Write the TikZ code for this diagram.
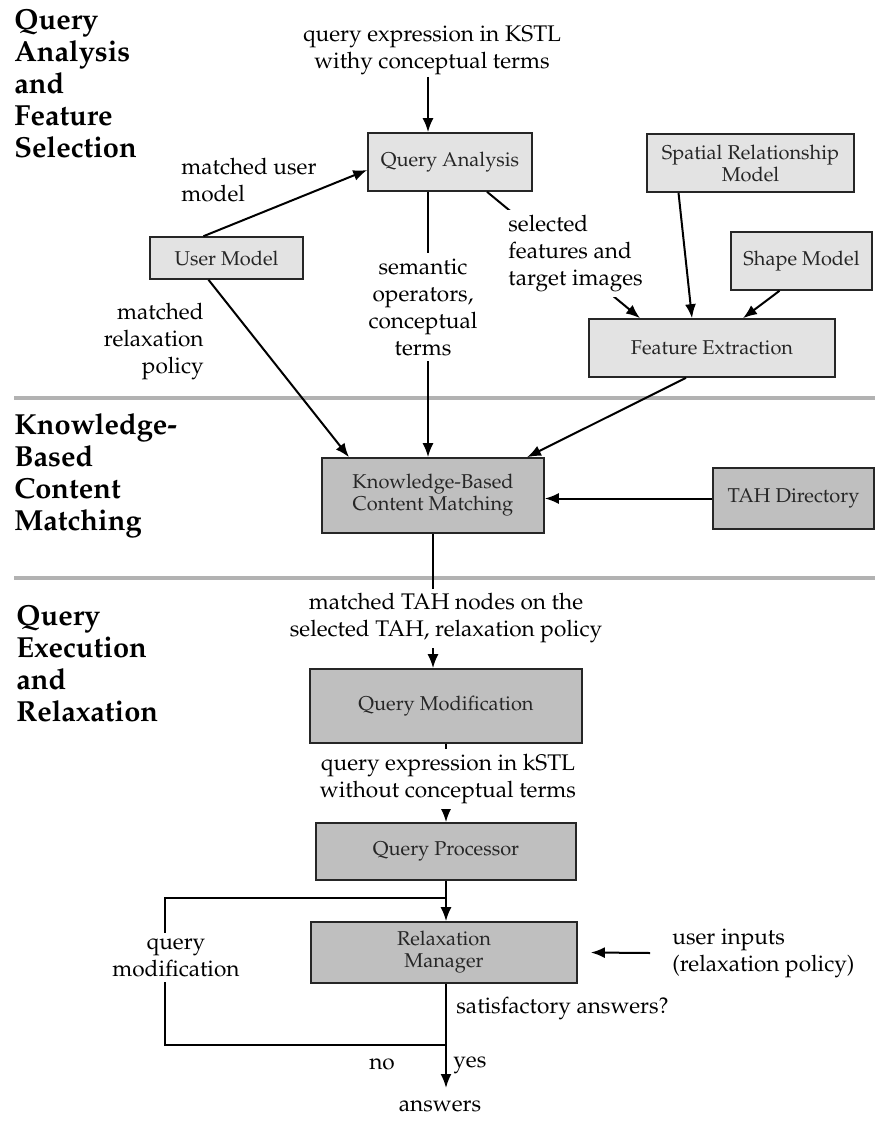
\documentclass[tikz,border=0pt]{standalone}
\usepackage[T1]{fontenc}
\usepackage{mathpazo}
\usepackage{tikz}
\usetikzlibrary{arrows.meta}

\tikzset{
  lightbox/.style={shape=rectangle, draw=black!85, line width=0.8pt, fill=gray!22, inner sep=0pt,
    align=center, text=black!85, font=\fontsize{10}{11}\selectfont},
  darkbox/.style={lightbox, fill=gray!50},
  lbl/.style={inner sep=0pt, font=\fontsize{11.3}{13.5}\selectfont},
  cover/.style={lbl, fill=white, inner sep=2.5pt},
  heading/.style={anchor=west, align=left, inner sep=0pt, font=\fontsize{14.5}{16}\selectfont\bfseries},
  arr/.style={-{Latex[length=7pt,width=5.5pt]}, line width=1pt},
  loop/.style={line width=0.6pt},
  sep/.style={line width=2.2pt, draw=gray!60}
}

\begin{document}
\begin{tikzpicture}[x=0.5pt, y=-0.5pt]

	\useasboundingbox (0,0) rectangle (875,1122);

	\node[heading] (hqa) at (14, 84)    {Query\\Analysis\\and\\Feature\\Selection};
	\node[heading] (hkb) at (14, 475.5) {Knowledge-\\Based\\Content\\Matching};
	\node[heading] (hqe) at (16, 663.5) {Query\\Execution\\and\\Relaxation};

	\draw[sep] (14, 398) -- (875, 398);
	\draw[sep] (14, 578) -- (875, 578);

	\node[lightbox, minimum width=82pt,    minimum height=29pt]   (qa)    at (450, 162)     {Query Analysis};
	\node[lightbox, minimum width=103.5pt, minimum height=29pt]   (sp)    at (750.5, 163)   {Spatial Relationship\\Model};
	\node[lightbox, minimum width=70.5pt,  minimum height=29pt]   (shape) at (801.5, 261)   {Shape Model};
	\node[lightbox, minimum width=76.5pt,  minimum height=21pt]   (user)  at (226.5, 258)   {User Model};
	\node[lightbox, minimum width=123pt,   minimum height=29pt]   (fe)    at (712, 348)     {Feature Extraction};
	\node[darkbox,  minimum width=111pt,   minimum height=37.5pt] (kb)    at (433, 495.5)   {Knowledge-Based\\Content Matching};
	\node[darkbox,  minimum width=80.5pt,  minimum height=30.5pt] (tah)   at (793.5, 498.5) {TAH Directory};
	\node[darkbox,  minimum width=136pt,   minimum height=37pt]   (qm)    at (446, 706)     {Query Modification};
	\node[darkbox,  minimum width=130pt,   minimum height=28.5pt] (qp)    at (446, 851.5)   {Query Processor};
	\node[darkbox,  minimum width=133pt,   minimum height=30.5pt] (rm)    at (444, 952.5)   {Relaxation\\Manager};

	\node[lbl, align=center] (qin) at (432, 50) {query expression in KSTL\\withy conceptual terms};
	\coordinate (qtop) at (428, 77);
	\coordinate (uin)  at (650, 953);
	\coordinate (lpt)  at (446, 898);
	\coordinate (lpb)  at (446, 1045);
	\coordinate (lpl)  at (165, 1045);
	\coordinate (ansin) at (446, 1088);

	\draw[arr] (qtop) -- (qtop |- qa.north);
	\draw[arr] (qtop |- qa.south) -- (qtop |- kb.north);
	\draw[arr] ([xshift=-11.5pt]user.north) -- ([yshift=-4pt]qa.west);
	\draw[arr] ([xshift=-9pt]user.south) -- ([xshift=-42pt]kb.north);
	\draw[arr] ([xshift=18.5pt]qa.south) -- ([xshift=-36pt]fe.north);
	\draw[arr] ([xshift=-36pt]sp.south) -- ([xshift=-10pt]fe.north);
	\draw[arr] ([xshift=-11pt]shape.south) -- ([xshift=15.5pt]fe.north);
	\draw[arr] ([xshift=-13pt]fe.south) -- ([xshift=47pt]kb.north);
	\draw[arr] (tah.west) -- (tah.west -| kb.east);
	\draw[arr] (kb.south) -- (kb.south |- qm.north);
	\draw[arr] (qm.south) -- (qm.south |- qp.north);
	\draw[arr] (qp.south) -- (qp.south |- rm.north);
	\draw[arr] (uin) -- ([xshift=6.5pt]rm.east);
	\draw[arr] (qp.south |- rm.south) -- (ansin);
	\draw[loop] (lpb) -- (lpl) |- (lpt);

	\node[lbl, anchor=west, align=left] (lum) at (181, 180) {matched user\\model};
	\node[lbl, anchor=east, align=right] (lrp) at (204, 341.5) {matched\\relaxation\\policy};
	\node[cover, align=center] (lso) at (423, 307) {semantic\\operators,\\conceptual\\terms};
	\node[cover, anchor=west, align=left] (lsf) at (503, 253.5) {selected\\features and\\target images};
	\node[cover, align=center] (ltah) at (446, 618.5) {matched TAH nodes on the\\selected TAH, relaxation policy};
	\node[cover, align=center] (lqe) at (448, 779) {query expression in kSTL\\without conceptual terms};
	\node[cover, align=center] (lqm) at (176, 957.5) {query\\modification};
	\node[lbl, anchor=west, align=left] (lui) at (672, 953) {user inputs\\(relaxation policy)};
	\node[lbl, anchor=west] (lsat) at (456, 1008) {satisfactory answers?};
	\node[lbl] (lno) at (382, 1064) {no};
	\node[lbl, anchor=west] (lyes) at (453, 1065) {yes};
	\node[lbl] (lans) at (440, 1106) {answers};

\end{tikzpicture}
\end{document}
